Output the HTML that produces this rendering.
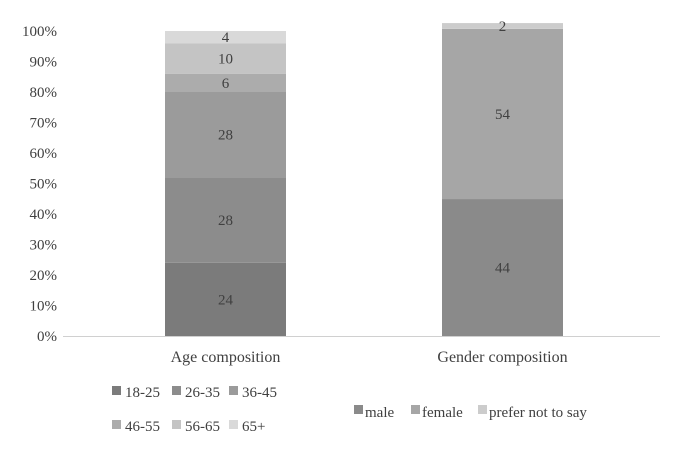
<!DOCTYPE html>
<html><head><meta charset="utf-8"><style>
body{margin:0;background:#fff}
svg text{font-family:"Liberation Serif",serif;fill:#404040}
</style></head><body>
<svg id="c" width="679" height="457"></svg>
<script>
const yTicks=["0%","10%","20%","30%","40%","50%","60%","70%","80%","90%","100%"];
const categories=["Age composition","Gender composition"];
const ageGroups=["18-25","26-35","36-45","46-55","56-65","65+"];
const ageValues=[24,28,28,6,10,4];
const ageLabels=[24,28,28,6,10,4];
const genderGroups=["male","female","prefer not to say"];
const genderValues=[44.9,55.8,1.9];
const genderLabels=[44,54,2];
const ageColors=["#7b7b7b","#8c8c8c","#9b9b9b","#acacac","#c4c4c4","#d9d9d9"];
const genderColors=["#8a8a8a","#a6a6a6","#cccccc"];
const NS="http://www.w3.org/2000/svg",svg=document.getElementById('c');
const y0=336,pxPer=3.05;
const y=v=>y0-v*pxPer;
const barX=[165,442],barW=121;
function el(t,a,txt){const e=document.createElementNS(NS,t);for(const k in a)e.setAttribute(k,a[k]);if(txt!==undefined)e.textContent=txt;svg.appendChild(e);return e;}
yTicks.forEach((t,i)=>{const e=el('text',{x:57,y:y(i*10)+5,'text-anchor':'end','font-size':15},t);

});
function stack(ci,vals,labs,cols,name){let c=0;vals.forEach((v,i)=>{
const r=el('rect',{x:barX[ci],y:y(c+v),width:barW,height:v*pxPer,fill:cols[i]});


const t=el('text',{x:barX[ci]+barW/2,y:y(c+v/2)+5,'text-anchor':'middle','font-size':15},labs[i]);


c+=v;});}
stack(0,ageValues,ageLabels,ageColors,'age');
stack(1,genderValues,genderLabels,genderColors,'gender');
const ax=el('line',{x1:63,x2:660,y1:y0+0.5,y2:y0+0.5,stroke:'#d0d0d0','stroke-width':1});

categories.forEach((c,i)=>{const t=el('text',{x:barX[i]+barW/2,y:362,'text-anchor':'middle','font-size':16},c);

});
const agePos=[[112,397],[172,397],[229,397],[112,431],[172,431],[229,431]];
ageGroups.forEach((g,i)=>{const p=agePos[i];
const r=el('rect',{x:p[0],y:p[1]-11,width:9,height:9,fill:ageColors[i]});

const t=el('text',{x:p[0]+13,y:p[1],'font-size':15},g);
});
const gPos=[354,411,478];
genderGroups.forEach((g,i)=>{
const r=el('rect',{x:gPos[i],y:405,width:9,height:9,fill:genderColors[i]});

const t=el('text',{x:gPos[i]+11,y:417,'font-size':15},g);
});
</script></body></html>
